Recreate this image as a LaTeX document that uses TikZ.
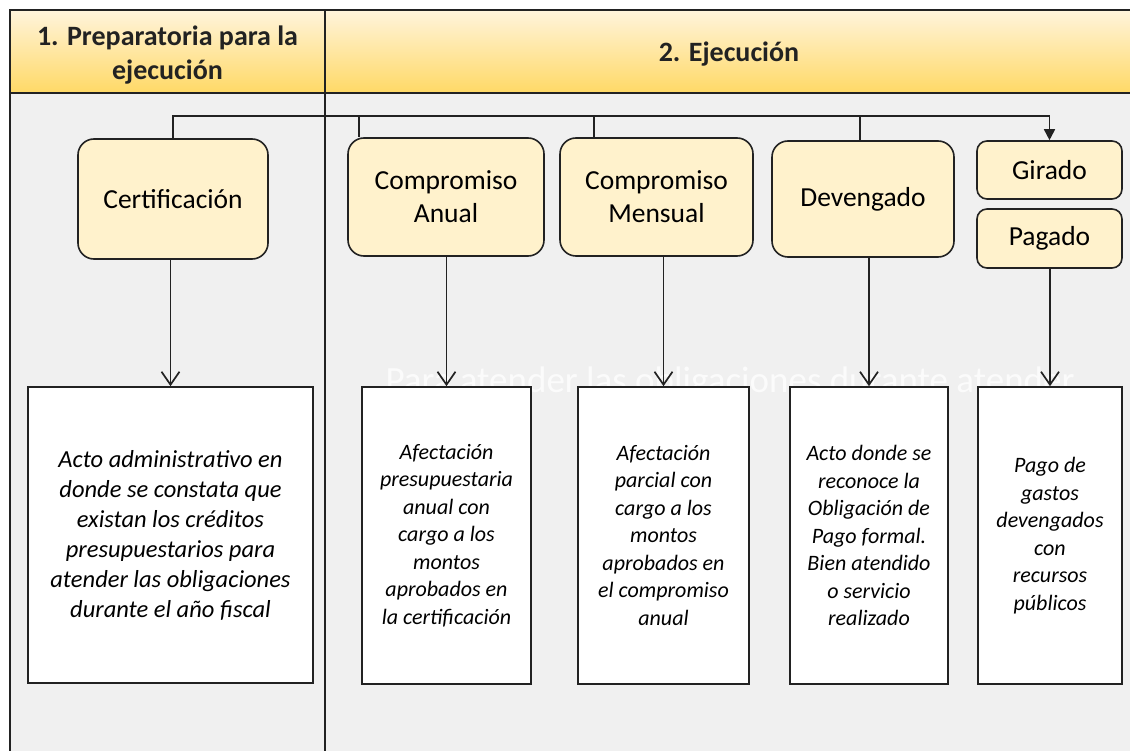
\documentclass[tikz,border=0pt]{standalone}
\usepackage{fontspec}
\setmainfont{Carlito}
\usetikzlibrary{arrows.meta}
\definecolor{bggray}{HTML}{F0F0F0}
\definecolor{hdrtop}{HTML}{FFF4DC}
\definecolor{hdrbot}{HTML}{FFD966}
\definecolor{boxfill}{HTML}{FFF2CC}
\definecolor{ink}{HTML}{222222}
\begin{document}
\begin{tikzpicture}[x=1pt,y=-1pt,
  frameline/.style={draw=ink, line width=1.8pt},
  stagebox/.style={draw=ink, line width=1.6pt, fill=boxfill, rounded corners=16pt, inner sep=0pt, align=center, font=\fontsize{27.5}{33}\selectfont},
  smallstage/.style={stagebox, rounded corners=10pt},
  descbox/.style={draw=ink, line width=1.6pt, fill=white, inner sep=0pt, align=center, font=\itshape\fontsize{22}{27.5}\selectfont},
  link/.style={draw=ink, line width=1.7pt},
  downarrow/.style={link, -{Straight Barb[length=13pt,width=18pt,line width=1.7pt]}},
  toparrow/.style={link, -{Triangle[length=11pt,width=11pt]}},
  headtext/.style={font=\bfseries\fontsize{28}{34}\selectfont, align=center, text=ink}
]
\useasboundingbox (0,0) rectangle (1130,751);
\fill[white] (0,0) rectangle (1130,751);
% frame and header band
\fill[bggray] (10,10) rectangle (1140,760);
\shade[top color=hdrtop, bottom color=hdrbot] (10,10) rectangle (1140,93);
\draw[frameline] (10,760) -- (10,10) -- (1140,10);
\draw[frameline] (10,93) -- (1140,93);
\draw[frameline] (325,10) -- (325,760);
\node[headtext] (h1) at (167.5,55) {1. Preparatoria para la\\ejecución};
\node[headtext] (h2) at (729,54) {2. Ejecución};
% watermark
\node[text=white, text opacity=0.75, font=\fontsize{37}{40}\selectfont] (wm) at (730,383) {Para atender las obligaciones durante atender};
% stage boxes
\node[stagebox, minimum width=190pt, minimum height=120pt] (cert) at (173,199) {Certificación};
\node[stagebox, minimum width=196pt, minimum height=118pt] (ca) at (446,197) {Compromiso\\Anual};
\node[stagebox, minimum width=193pt, minimum height=118pt] (cm) at (656.5,197) {Compromiso\\Mensual};
\node[stagebox, minimum width=182pt, minimum height=116pt] (dev) at (863,199) {Devengado};
\node[smallstage, minimum width=145pt, minimum height=58pt] (gir) at (1049.5,170) {Girado};
\node[smallstage, minimum width=145pt, minimum height=59pt] (pag) at (1049.5,238.5) {Pagado};
% description boxes
\node[descbox, minimum width=285pt, minimum height=296pt, font=\itshape\fontsize{24.5}{30}\selectfont] (wb1) at (170.5,535) {Acto administrativo en\\donde se constata que\\existan los créditos\\presupuestarios para\\atender las obligaciones\\durante el año fiscal};
\node[descbox, minimum width=169pt, minimum height=297pt] (wb2) at (446.5,535.5) {Afectación\\presupuestaria\\anual con\\cargo a los\\montos\\aprobados en\\la certificación};
\node[descbox, minimum width=171pt, minimum height=297pt] (wb3) at (663.5,535.5) {Afectación\\parcial con\\cargo a los\\montos\\aprobados en\\el compromiso\\anual};
\node[descbox, minimum width=158pt, minimum height=297pt] (wb4) at (869,535.5) {Acto donde se\\reconoce la\\Obligación de\\Pago formal.\\Bien atendido\\o servicio\\realizado};
\node[descbox, minimum width=144pt, minimum height=297pt] (wb5) at (1050,535.5) {Pago de\\gastos\\devengados\\con\\recursos\\públicos};
% top bus
\coordinate (bus) at (0,116);
\coordinate (caj) at (359,116);
\coordinate (cmj) at (594,116);
\coordinate (devj) at (860,116);
\draw[toparrow] (cert.north) |- (bus -| gir.north) -- (gir.north);
\draw[link] (caj) -- (caj |- ca.north);
\draw[link] (cmj) -- (cmj |- cm.north);
\draw[link] (devj) -- (devj |- dev.north);
% down arrows
\draw[downarrow] (cert.south -| wb1.north) -- (wb1.north);
\draw[downarrow] (ca.south -| wb2.north) -- (wb2.north);
\draw[downarrow] (cm.south -| wb3.north) -- (wb3.north);
\draw[downarrow] (dev.south -| wb4.north) -- (wb4.north);
\draw[downarrow] (pag.south -| wb5.north) -- (wb5.north);
\end{tikzpicture}
\end{document}
